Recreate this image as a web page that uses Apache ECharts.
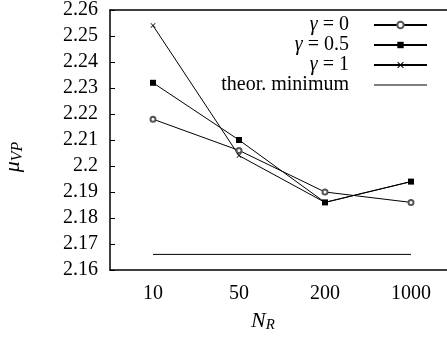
<!DOCTYPE html>
<html>
<head>
<meta charset="utf-8">
<script src="https://cdn.jsdelivr.net/npm/echarts@6/dist/echarts.min.js"></script>
<style>
  html, body { margin: 0; padding: 0; background: #fff; }
  #chart { width: 447px; height: 337px; }
</style>
</head>
<body>
<div id="chart"></div>
<script>
// values
const categories = ['10', '50', '200', '1000']
const gamma0 = [2.218, 2.206, 2.190, 2.186]
const gamma05 = [2.232, 2.210, 2.186, 2.194]
const gamma1 = [2.254, 2.204, 2.186, 2.194]
const theorMin = [2.166, 2.166, 2.166, 2.166]
const yMin = 2.16
const yMax = 2.26
const yStep = 0.01

const font = 'Liberation Serif'
const crossPath = 'path://M0,1L1,0L5,4L9,0L10,1L6,5L10,9L9,10L5,6L1,10L0,9L4,5Z'
// plain line for the legend, with specks top and bottom so it is not stretched
const plainLine = 'path://M0,0L0.05,0L0.05,0.05ZM0,3.4L53,3.4L53,4.6L0,4.6ZM0,7.95L0.05,7.95L0.05,8Z'

const chart = echarts.init(document.getElementById('chart'))

const lineStyle = { color: '#000', width: 1 }
const names = ['g0', 'g05', 'g1', 'theor']
const legendText = {
  g0: '{g|γ} = 0',
  g05: '{g|γ} = 0.5',
  g1: '{g|γ} = 1',
  theor: 'theor. minimum'
}

const axisColor = { color: '#000', width: 1.5 }

const option = {
  animation: false,
  backgroundColor: '#fff',
  textStyle: { fontFamily: font, color: '#000' },
  grid: { left: 110, right: -7, top: 10, bottom: 67, outerBoundsMode: 'none', containLabel: false },
  legend: {
    orient: 'vertical',
    right: 19,
    top: 15,
    padding: 0,
    align: 'right',
    itemWidth: 53,
    itemHeight: 8,
    itemGap: 0,
    selectedMode: false,
    formatter: n => legendText[n],
    textStyle: {
      fontFamily: font,
      fontSize: 20,
      color: '#000',
      lineHeight: 16,
      padding: [0, 20, 0, 0],
      rich: {
        g: { fontFamily: font, fontSize: 20, fontStyle: 'italic', color: '#000', lineHeight: 16 }
      }
    },
    data: [
      { name: 'g0' },
      { name: 'g05' },
      { name: 'g1' },
      { name: 'theor', icon: plainLine, itemStyle: { color: '#000' } }
    ]
  },
  xAxis: [
    {
      type: 'category',
      data: categories,
      boundaryGap: true,
      position: 'bottom',
      axisLine: { lineStyle: axisColor },
      axisTick: { inside: true, alignWithLabel: true, length: 5, lineStyle: { color: '#000' } },
      axisLabel: { fontFamily: font, fontSize: 20, color: '#000', margin: 14 },
      name: '{n|N}{s|R}',
      nameLocation: 'middle',
      nameGap: 39,
      nameTextStyle: {
        padding: [0, 38, 0, 0],
        rich: {
          n: { fontFamily: font, fontSize: 22, fontStyle: 'italic', color: '#000' },
          s: { fontFamily: font, fontSize: 15, fontStyle: 'italic', color: '#000', padding: [9, 0, 0, 0] }
        }
      },
      splitLine: { show: false }
    },
    {
      type: 'category',
      data: categories,
      boundaryGap: true,
      position: 'top',
      axisLine: { lineStyle: axisColor },
      axisTick: { inside: true, alignWithLabel: true, length: 5, lineStyle: { color: '#000' } },
      axisLabel: { show: false },
      splitLine: { show: false }
    }
  ],
  yAxis: [
    {
      type: 'value',
      min: yMin,
      max: yMax,
      interval: yStep,
      axisLine: { show: true, lineStyle: axisColor },
      axisTick: { show: true, inside: true, length: 5, lineStyle: { color: '#000' } },
      axisLabel: {
        fontFamily: font,
        fontSize: 20,
        color: '#000',
        margin: 12,
        formatter: v => String(parseFloat(v.toFixed(2)))
      },
      name: '{m|μ}{s|VP}',
      nameLocation: 'middle',
      nameRotate: 90,
      nameGap: 84,
      nameTextStyle: {
        padding: [0, 34, 0, 0],
        rich: {
          m: { fontFamily: font, fontSize: 22, fontStyle: 'italic', color: '#000' },
          s: { fontFamily: font, fontSize: 16, fontStyle: 'italic', color: '#000', padding: [9, 0, 0, 0] }
        }
      },
      splitLine: { show: false }
    }
  ],
  series: [
    {
      name: names[0],
      type: 'line',
      data: gamma0,
      symbol: 'emptyCircle',
      symbolSize: 5,
      lineStyle: lineStyle,
      itemStyle: { color: '#555', borderColor: '#555', borderWidth: 1 }
    },
    {
      name: names[1],
      type: 'line',
      data: gamma05,
      symbol: 'rect',
      symbolSize: 6,
      lineStyle: lineStyle,
      itemStyle: { color: '#000' }
    },
    {
      name: names[2],
      type: 'line',
      data: gamma1,
      symbol: crossPath,
      symbolSize: 5,
      lineStyle: lineStyle,
      itemStyle: { color: '#000' }
    },
    {
      name: names[3],
      type: 'line',
      data: theorMin,
      symbol: 'none',
      lineStyle: lineStyle,
      itemStyle: { color: '#000' }
    }
  ]
}

chart.setOption(option)
</script>
</body>
</html>
